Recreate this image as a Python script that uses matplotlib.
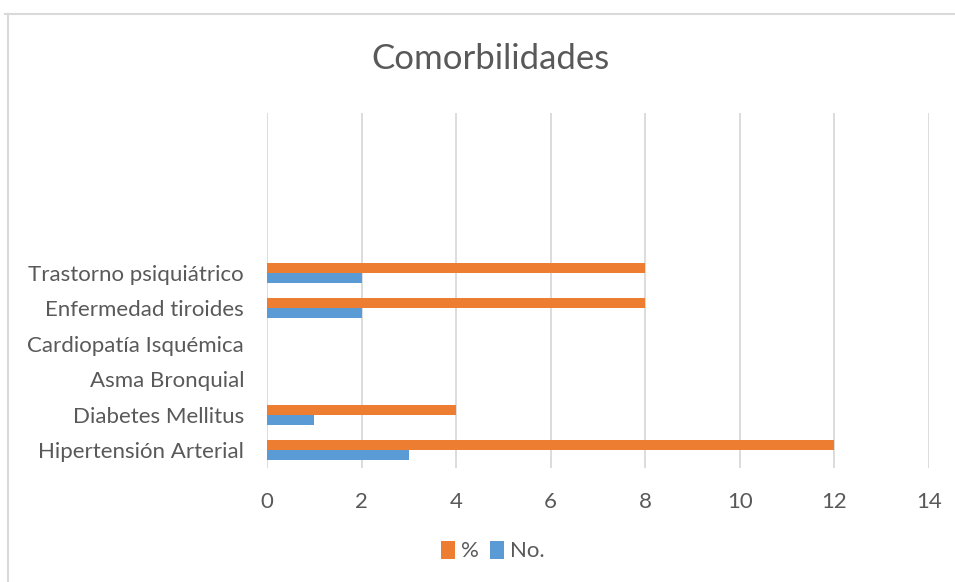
import matplotlib.pyplot as plt
from matplotlib.lines import Line2D
import numpy as np

categories = ["Hipertensión Arterial", "Diabetes Mellitus", "Asma Bronquial",
              "Cardiopatía Isquémica", "Enfermedad tiroides", "Trastorno psiquiátrico",
              "", "", "", ""]
pct = [12, 4, 0, 0, 8, 8, 0, 0, 0, 0]
num = [3, 1, 0, 0, 2, 2, 0, 0, 0, 0]
xticks = [0, 2, 4, 6, 8, 10, 12, 14]

orange = "#ED7D31"
blue = "#5B9BD5"
txt = "#595959"

plt.rcParams['font.family'] = ['Lato', 'DejaVu Sans']

fig = plt.figure(figsize=(9.55, 5.82), dpi=100)
ax = fig.add_axes([267/955, 1 - 468/582, (929 - 267)/955, (468 - 113)/582])

y = np.arange(len(categories))
h = 0.28
ax.barh(y + h/2, pct, height=h, color=orange, label="%", zorder=3)
ax.barh(y - h/2, num, height=h, color=blue, label="No.", zorder=3)

ax.set_xlim(0, 14)
ax.set_ylim(-0.5, len(categories) - 0.5)
ax.set_xticks(xticks)
ax.set_yticks(y)
ax.set_yticklabels(categories)
ax.tick_params(axis='both', length=0, labelsize=16, labelcolor=txt)
ax.tick_params(axis='x', pad=17)
ax.tick_params(axis='y', pad=16.5)
ax.grid(axis='x', color="#D9D9D9", linewidth=1.3, zorder=0)
for s in ax.spines.values():
    s.set_visible(False)

fig.text(490/955, 1 - 59/582, "Comorbilidades", ha='center', va='center',
         fontsize=25, color=txt)

handles, labels = ax.get_legend_handles_labels()
fig.legend(handles, labels, loc='center', bbox_to_anchor=(493/955, 1 - 551/582),
           ncol=2, frameon=False, fontsize=16, labelcolor=txt,
           handlelength=0.6, handleheight=0.9, handletextpad=0.3, columnspacing=0.5)

# outer chart frame
fig.add_artist(Line2D([5/955, 954/955], [1 - 14/582, 1 - 14/582],
                      color="#D9D9D9", linewidth=1.5))
fig.add_artist(Line2D([8/955, 8/955], [1 - 14/582, 0],
                      color="#D9D9D9", linewidth=1.5))

fig.savefig("out.png", dpi=100)
